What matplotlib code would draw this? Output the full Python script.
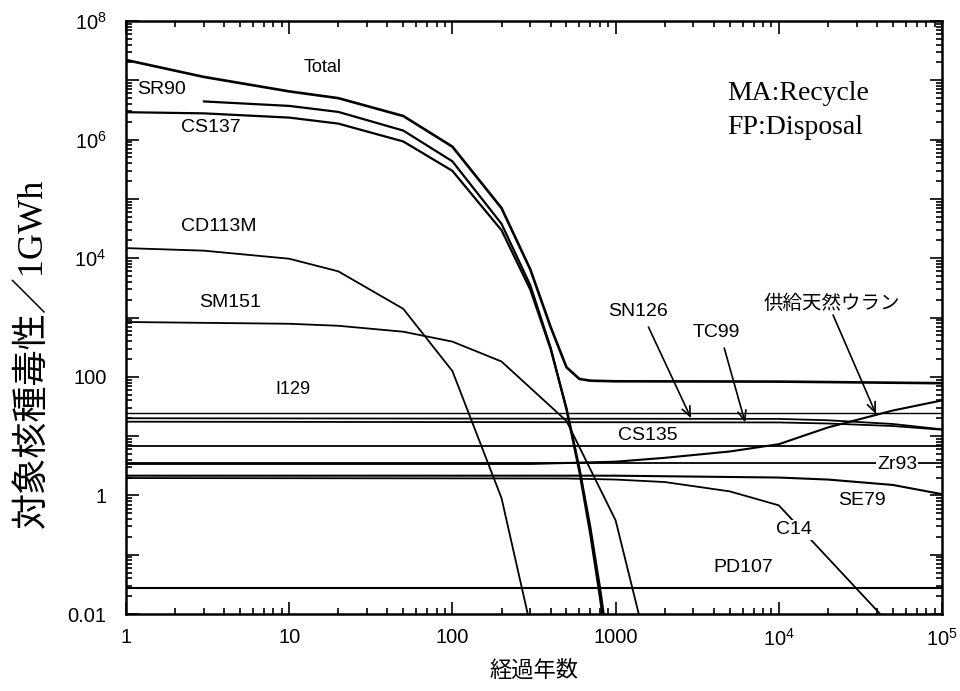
import numpy as np
import matplotlib
matplotlib.use('Agg')
import matplotlib.pyplot as plt
from matplotlib.ticker import FixedLocator, FixedFormatter, LogLocator, NullFormatter

plt.rcParams['font.family'] = ['Liberation Sans', 'Noto Sans CJK JP']
plt.rcParams['mathtext.fontset'] = 'custom'
plt.rcParams['mathtext.rm'] = 'Liberation Sans'

# ---------------- data (years, toxicity per 1 GWh) ----------------
total_t = [1, 3, 10, 20, 50, 100, 200, 300, 400, 500, 600, 700, 1000, 1e4, 1e5]
total_v = [2.2e7, 1.14e7, 6.5e6, 5.0e6, 2.5e6, 7.6e5, 7.0e4, 6.5e3, 690, 145, 92, 86, 84, 83, 78]

sr90_t = [3, 10, 20, 50, 100, 200, 300, 400, 500, 600, 700, 800, 900]
sr90_v = [4.4e6, 3.7e6, 2.93e6, 1.42e6, 4.3e5, 3.8e4, 3.5e3, 308, 28, 2.5, 0.22, 0.020, 1.8e-3]

cs137_t = [1, 3, 10, 20, 50, 100, 200, 300, 400, 500, 600, 700, 800, 900]
cs137_v = [2.9e6, 2.77e6, 2.35e6, 1.86e6, 9.3e5, 2.97e5, 2.96e4, 2.96e3, 293, 29.6, 2.9, 0.29, 0.029, 2.9e-3]

cd113m_t = [1, 3, 10, 20, 50, 100, 200, 300]
cd113m_v = [1.48e4, 1.34e4, 9.8e3, 6.0e3, 1.4e3, 125, 0.9, 6.5e-3]

sm151_t = [1, 10, 20, 50, 100, 200, 500, 1000, 2000]
sm151_v = [840, 784, 725, 576, 392, 181, 18, 0.38, 1.7e-4]

i129_t = [1, 1e5]
i129_v = [25, 25]

sn126_t = [1, 1e4, 2e4, 5e4, 1e5]
sn126_v = [20, 19.5, 18.5, 16, 13]

tc99_t = [1, 1e4, 2e4, 5e4, 1e5]
tc99_v = [17.5, 17.0, 16.3, 14.8, 12.8]

cs135_t = [1, 1e5]
cs135_v = [6.8, 6.8]

zr93_t = [1, 1e5]
zr93_v = [3.5, 3.5]

uran_t = [1, 300, 1000, 2000, 5000, 1e4, 2e4, 5e4, 1e5]
uran_v = [3.4, 3.4, 3.7, 4.3, 5.5, 7.3, 14, 27, 40]

se79_t = [1, 1000, 1e4, 2e4, 5e4, 1e5]
se79_v = [2.15, 2.15, 2.0, 1.85, 1.5, 1.05]

c14_t = [1, 500, 1000, 2000, 5000, 1e4, 5e4]
c14_v = [1.96, 1.93, 1.85, 1.68, 1.17, 0.68, 5.9e-3]

pd107_t = [1, 1e5]
pd107_v = [0.027, 0.027]

x_ticks = [1, 10, 100, 1000, 1e4, 1e5]
x_labels = ['1', '10', '100', '1000', r'$\mathregular{10^{4}}$', r'$\mathregular{10^{5}}$']
y_ticks = [1e-2, 1e-1, 1, 10, 100, 1e3, 1e4, 1e5, 1e6, 1e7, 1e8]
y_labels = ['0.01', '', '1', '', '100', '', r'$\mathregular{10^{4}}$', '',
            r'$\mathregular{10^{6}}$', '', r'$\mathregular{10^{8}}$']

# ---------------- figure ----------------
fig = plt.figure(figsize=(9.6, 6.91), dpi=100)
ax = fig.add_axes([126/960, 1-614/691, (942-126)/960, (614-21)/691])
ax.set_xscale('log')
ax.set_yscale('log')
ax.set_xlim(1, 1e5)
ax.set_ylim(1e-2, 1e8)

k = dict(color='black', lw=1.3, solid_joinstyle='round', zorder=2)
ax.plot(total_t, total_v, **{**k, 'lw': 1.9})
ax.plot(sr90_t, sr90_v, **{**k, 'lw': 1.6})
ax.plot(cs137_t, cs137_v, **{**k, 'lw': 1.6})
ax.plot(cd113m_t, cd113m_v, **k)
ax.plot(sm151_t, sm151_v, **k)
ax.plot(i129_t, i129_v, **{**k, 'lw': 1.0})
ax.plot(sn126_t, sn126_v, **k)
ax.plot(tc99_t, tc99_v, **k)
ax.plot(cs135_t, cs135_v, **k)
ax.plot(zr93_t, zr93_v, **k)
ax.plot(uran_t, uran_v, **{**k, 'lw': 1.5})
ax.plot(se79_t, se79_v, **{**k, 'lw': 1.5})
ax.plot(c14_t, c14_v, **k)
ax.plot(pd107_t, pd107_v, **{**k, 'lw': 1.5})

# ticks
ax.xaxis.set_major_locator(FixedLocator(x_ticks))
ax.xaxis.set_major_formatter(FixedFormatter(x_labels))
ax.xaxis.set_minor_locator(LogLocator(base=10, subs=np.arange(2, 10), numticks=20))
ax.xaxis.set_minor_formatter(NullFormatter())
ax.yaxis.set_major_locator(FixedLocator(y_ticks))
ax.yaxis.set_major_formatter(FixedFormatter(y_labels))
ax.yaxis.set_minor_locator(LogLocator(base=10, subs=np.arange(2, 10), numticks=20))
ax.yaxis.set_minor_formatter(NullFormatter())
ax.tick_params(which='both', direction='in', top=True, right=True, width=1.2, color='black')
ax.tick_params(which='major', length=9)
ax.tick_params(which='minor', length=4.5)
ax.tick_params(axis='x', which='major', labelsize=14.5, pad=10)
ax.tick_params(axis='y', which='major', labelsize=14.5, pad=14)
for s in ax.spines.values():
    s.set_linewidth(1.8)

# axis labels
ax.set_xlabel('経過年数', fontsize=16, family=['Noto Sans CJK JP'])
ax.xaxis.set_label_coords(0.5, -0.076)
ax.set_ylabel('対象核種毒性／1GWh', fontsize=26, family=['Liberation Serif', 'Noto Sans CJK JP'])
ax.yaxis.set_label_coords(-0.094, 0.44)

# series labels
tk = dict(fontsize=14, ha='center', va='center', zorder=4)
wb = dict(facecolor='white', edgecolor='none', pad=1.0)
ax.text(16.1, 1.67e7, 'Total', **{**tk, 'fontsize': 13})
ax.text(1.66, 7.1e6, 'SR90', **tk)
ax.text(3.31, 1.63e6, 'CS137', **tk)
ax.text(3.71, 3.36e4, 'CD113M', **tk)
ax.text(4.33, 1.82e3, 'SM151', **tk)
ax.text(10.5, 60, 'I129', **{**tk, 'fontsize': 13})
ax.text(1565, 10.4, 'CS135', bbox=wb, **tk)
ax.text(5.3e4, 3.26, 'Zr93', bbox=wb, **tk)
ax.text(3.24e4, 0.835, 'SE79', **tk)
ax.text(1.24e4, 0.261, 'C14', bbox=wb, **tk)
ax.text(6.05e3, 0.0597, 'PD107', **tk)
ax.text(1380, 1240, 'SN126', **tk)
ax.text(4140, 548, 'TC99', **tk)
ax.text(2.12e4, 1760, '供給天然ウラン', family=['Noto Sans CJK JP'], **tk)

ap = dict(arrowstyle='->,head_length=0.7,head_width=0.3', lw=1.2, color='black',
          shrinkA=0, shrinkB=0)
ax.annotate('', xy=(2900, 20), xytext=(1590, 690), arrowprops=ap, zorder=4)
ax.annotate('', xy=(6220, 17), xytext=(4630, 306), arrowprops=ap, zorder=4)
ax.annotate('', xy=(3.94e4, 23.6), xytext=(2.15e4, 1100), arrowprops=ap, zorder=4)

sk = dict(fontsize=20, ha='left', va='center', family=['Liberation Serif'], zorder=4)
ax.text(4.83e3, 6.1e6, 'MA:Recycle', **sk)
ax.text(4.83e3, 1.63e6, 'FP:Disposal', **sk)

fig.savefig('out.png', dpi=100)
